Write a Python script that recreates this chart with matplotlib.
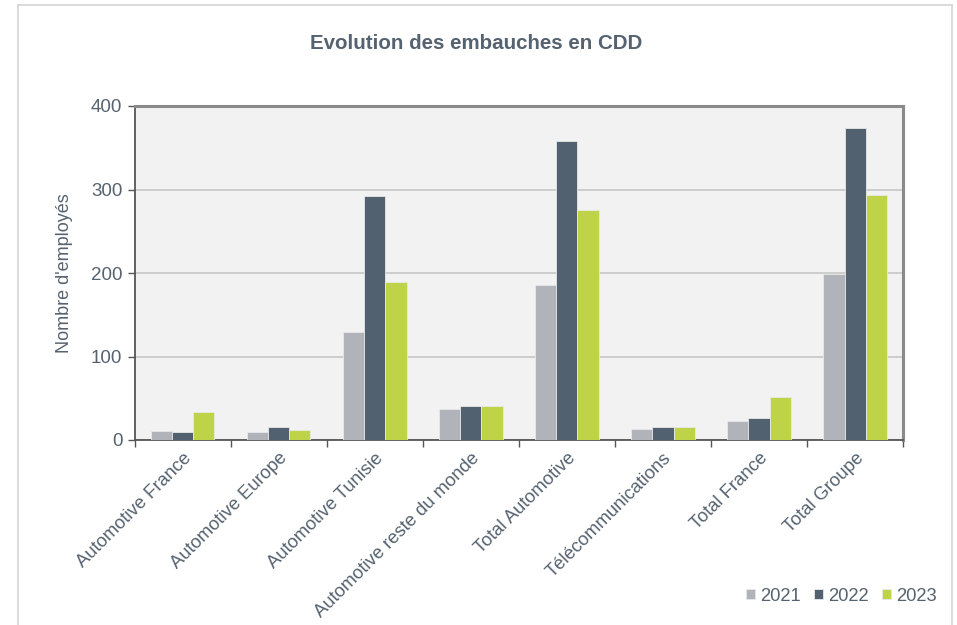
import numpy as np
import matplotlib.pyplot as plt
from matplotlib.lines import Line2D

plt.rcParams['font.family'] = ['Liberation Sans', 'DejaVu Sans']

categories = ['Automotive France', 'Automotive Europe', 'Automotive Tunisie',
              'Automotive reste du monde', 'Total Automotive', 'Télécommunications',
              'Total France', 'Total Groupe']
years = ['2021', '2022', '2023']
v2021 = [11, 9, 129, 37, 186, 13, 23, 199]
v2022 = [9, 16, 292, 41, 358, 15, 26, 374]
v2023 = [34, 12, 189, 41, 276, 15, 51, 293]
colors = ['#b0b3b9', '#52616f', '#bed348']
text_color = '#55626f'

fig = plt.figure(figsize=(9.57, 6.25), dpi=100)
ax = fig.add_axes([0.141, 0.296, 0.8026, 0.5344])
ax.set_facecolor('#f2f2f2')

x = np.arange(len(categories))
w = 0.219
for i, (vals, col, yr) in enumerate(zip([v2021, v2022, v2023], colors, years)):
    ax.bar(x + (i - 1) * w, vals, width=w, color=col, edgecolor='#e8e8e8',
           linewidth=0.6, label=yr, zorder=3)

ax.set_xlim(-0.5, len(categories) - 0.5)
ax.set_ylim(0, 400)
ax.set_yticks([0, 100, 200, 300, 400])
ax.yaxis.grid(True, color='#c6c6c6', linewidth=1.2, zorder=0)
ax.set_axisbelow(True)

# ticks between categories, labels centred under groups
ax.set_xticks(np.arange(len(categories) + 1) - 0.5)
ax.set_xticklabels([])
ax.set_xticks(x, minor=True)
ax.set_xticklabels(categories, minor=True, rotation=45, ha='right',
                   rotation_mode='anchor', fontsize=13.2, color=text_color)
ax.tick_params(axis='x', which='minor', length=0, pad=7)
ax.tick_params(axis='x', which='major', length=5, color='#555555', width=1)
ax.tick_params(axis='y', length=5, color='#555555', width=1, labelsize=13.5,
               labelcolor=text_color, pad=4)

for side in ['left', 'bottom']:
    ax.spines[side].set_color('#555555')
    ax.spines[side].set_linewidth(1.3)
for side in ['top', 'right']:
    ax.spines[side].set_color('#8a8a8a')
    ax.spines[side].set_linewidth(2.2)

ax.set_ylabel("Nombre d'employés", fontsize=13, color=text_color, labelpad=13)
fig.text(0.497, 0.93, 'Evolution des embauches en CDD', ha='center', va='center',
         fontsize=14.8, fontweight='bold', color=text_color)

ax.legend(loc='center right', bbox_to_anchor=(0.996, 0.046),
          bbox_transform=fig.transFigure, ncol=3, frameon=False, fontsize=13.2,
          handlelength=0.5, handleheight=0.5, handletextpad=0.25,
          columnspacing=0.75, labelcolor=text_color)

# light frame around the figure
frame_kw = dict(color='#d4d4d4', linewidth=1.2, transform=fig.transFigure)
fig.add_artist(Line2D([0.0188, 0.9948], [0.992, 0.992], **frame_kw))
fig.add_artist(Line2D([0.0188, 0.0188], [0.992, -0.01], **frame_kw))
fig.add_artist(Line2D([0.9948, 0.9948], [0.992, -0.01], **frame_kw))

fig.savefig('out.png', dpi=100)
